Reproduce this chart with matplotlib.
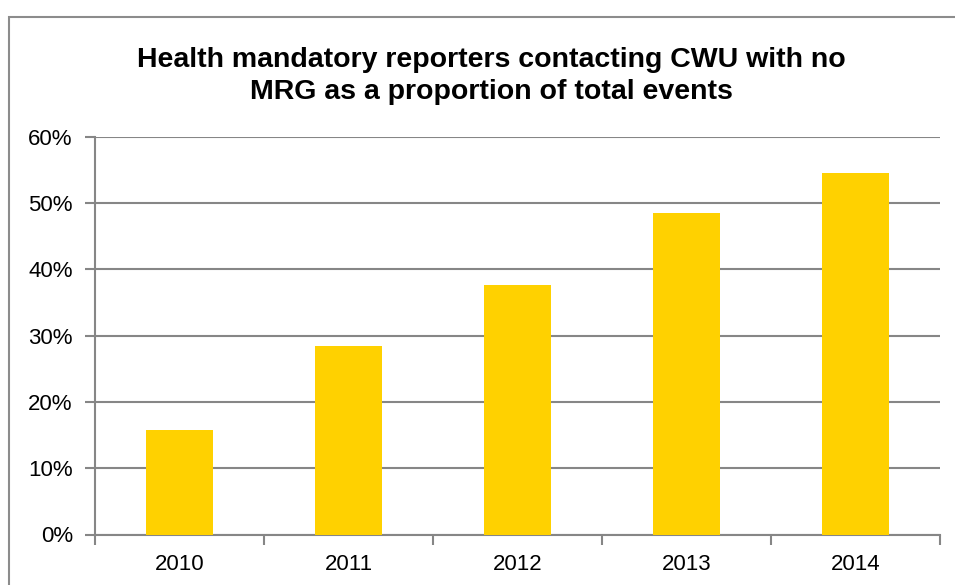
import matplotlib.pyplot as plt
import numpy as np
from matplotlib.patches import Rectangle
from matplotlib.ticker import FuncFormatter

plt.rcParams['font.family'] = ['Liberation Sans', 'DejaVu Sans']

years = ['2010', '2011', '2012', '2013', '2014']
share = [15.7, 28.5, 37.7, 48.6, 54.5]   # percent of total events
yticks = [0, 10, 20, 30, 40, 50, 60]

title = 'Health mandatory reporters contacting CWU with no\nMRG as a proportion of total events'
grey = '#868686'
bar_colour = '#FFD100'

fig = plt.figure(figsize=(9.55, 5.85), dpi=100)
W, H = 955, 585

# chart frame (only left and top edges fall inside the image)
fig.patches.append(Rectangle((9 / W, -0.1), 1.2, (H - 17) / H + 0.1,
                             transform=fig.transFigure, fill=False,
                             edgecolor='#8c8c8c', linewidth=1.5))

ax = fig.add_axes([95 / W, (H - 534.5) / H, (940 - 95) / W, (534.5 - 137) / H])

x = np.arange(len(years))
ax.bar(x, share, width=0.40, color=bar_colour, zorder=3)

ax.set_xlim(-0.5, len(years) - 0.5)
ax.set_ylim(0, 60)
ax.set_yticks(yticks)
ax.yaxis.set_major_formatter(FuncFormatter(lambda v, _: f'{v:.0f}%'))
ax.set_xticks(x)
ax.set_xticklabels(years)
ax.set_xticks(np.arange(-0.5, len(years)), minor=True)

ax.grid(axis='y', color=grey, linewidth=1.5, zorder=0)
for s in ['top', 'right']:
    ax.spines[s].set_visible(False)
for s in ['left', 'bottom']:
    ax.spines[s].set_color(grey)
    ax.spines[s].set_linewidth(1.5)

ax.tick_params(axis='y', which='major', length=7, width=1.5, color=grey,
               labelsize=16, pad=9)
ax.tick_params(axis='x', which='major', length=0, labelsize=16, pad=14)
ax.tick_params(axis='x', which='minor', length=7, width=1.5, color=grey)

fig.text(491 / W, 1 - 76 / H, title, ha='center', va='center',
         fontsize=20.5, fontweight='bold', linespacing=1.32)

fig.savefig('out.png', dpi=100, facecolor='white')
